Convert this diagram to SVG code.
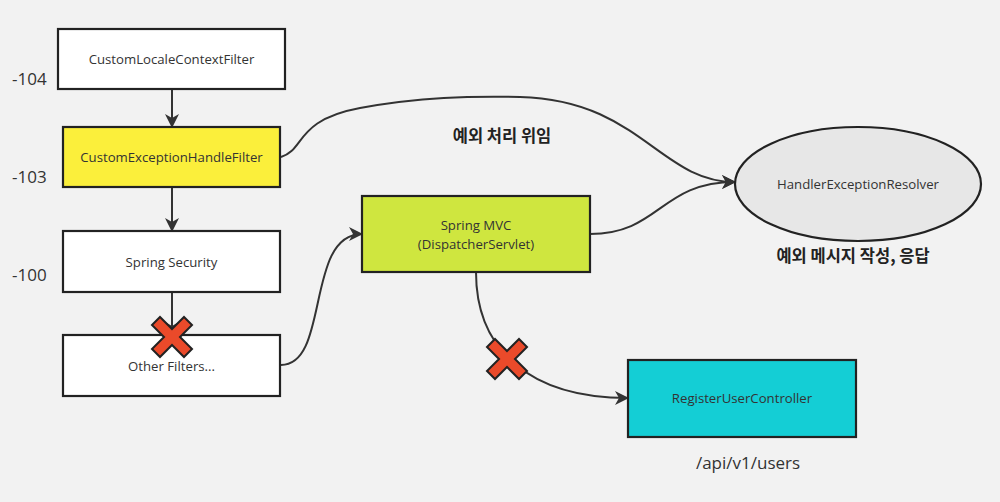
<svg xmlns="http://www.w3.org/2000/svg" width="1000" height="502" viewBox="0 0 1000 502">
<defs>
<style>
.box{stroke:#222;stroke-width:2.2}
.t{font-family:"Open Sans","Noto Sans",sans-serif;font-size:13.2px;fill:#333;text-anchor:middle}
.num{font-family:"Open Sans","Noto Sans",sans-serif;font-size:17px;fill:#333}
.kr{font-family:"Noto Sans CJK KR","Noto Sans",sans-serif;font-size:16.5px;font-weight:bold;fill:#222;text-anchor:middle}
.path{font-family:"Open Sans","Noto Sans",sans-serif;font-size:17px;fill:#333;text-anchor:middle}
.c{fill:none;stroke:#333;stroke-width:2}
.x{fill:#ea4a2a;stroke:#222;stroke-width:2;stroke-linejoin:miter}
</style>
<marker id="ah" viewBox="0 0 14 14" refX="13" refY="7" markerWidth="14" markerHeight="14" markerUnits="userSpaceOnUse" orient="auto">
<path d="M0,0 L14,7 L0,14 L4,7 Z" fill="#333"/>
</marker>
<polygon id="xm" points="0,-8 12,-20 20,-12 8,0 20,12 12,20 0,8 -12,20 -20,12 -8,0 -20,-12 -12,-20"/>
</defs>
<rect width="1000" height="502" fill="#f2f2f2"/>
<g id="connectors">
<path class="c" d="M172,89 L172,127" marker-end="url(#ah)"/>
<path class="c" d="M172,187 L172,231" marker-end="url(#ah)"/>
<path class="c" d="M172,292 L172,335" marker-end="url(#ah)"/>
<path class="c" d="M281,157 C305,150 295,120 360,108 C420,97 470,96 520,97 C640,100 660,182 735,182" marker-end="url(#ah)"/>
<path class="c" d="M590,234 C660,234 660,182 735,182" marker-end="url(#ah)"/>
<path class="c" d="M281,365 C330,365 305,234 362,234" marker-end="url(#ah)"/>
<path class="c" d="M476,272 C476,350 530,398 628,398" marker-end="url(#ah)"/>
</g>
<g id="n1"><rect class="box" x="58" y="29" width="227" height="60" fill="#fff"/><text class="t" x="171.5" y="64">CustomLocaleContextFilter</text></g>
<g id="n2"><rect class="box" x="63" y="127" width="217" height="60" fill="#fbef3b"/><text class="t" x="171.5" y="162">CustomExceptionHandleFilter</text></g>
<g id="n3"><rect class="box" x="63" y="231" width="217" height="61" fill="#fff"/><text class="t" x="171.5" y="267">Spring Security</text></g>
<g id="n4"><rect class="box" x="63" y="335" width="217" height="61" fill="#fff"/><text class="t" x="171.5" y="371">Other Filters...</text></g>
<g id="n5"><rect class="box" x="362" y="196" width="228" height="76" fill="#cfe63f"/><text class="t" x="476" y="230">Spring MVC</text><text class="t" x="476" y="249">(DispatcherServlet)</text></g>
<g id="n6"><ellipse class="box" cx="858" cy="184" rx="123" ry="57" fill="#e7e7e7"/><text class="t" x="858" y="189">HandlerExceptionResolver</text></g>
<g id="n7"><rect class="box" x="628" y="360" width="228" height="77" fill="#14ced5"/><text class="t" x="742" y="403">RegisterUserController</text></g>
<g id="labels">
<text class="num" x="12" y="85">-104</text>
<text class="num" x="12" y="183">-103</text>
<text class="num" x="12" y="281">-100</text>
<text class="kr" x="502" y="142">예외 처리 위임</text>
<text class="kr" x="853" y="262">예외 메시지 작성, 응답</text>
<text class="path" x="748" y="469">/api/v1/users</text>
</g>
<g id="marks">
<use href="#xm" class="x" transform="translate(172,337)"/>
<use href="#xm" class="x" transform="translate(507,359)"/>
</g>
</svg>
